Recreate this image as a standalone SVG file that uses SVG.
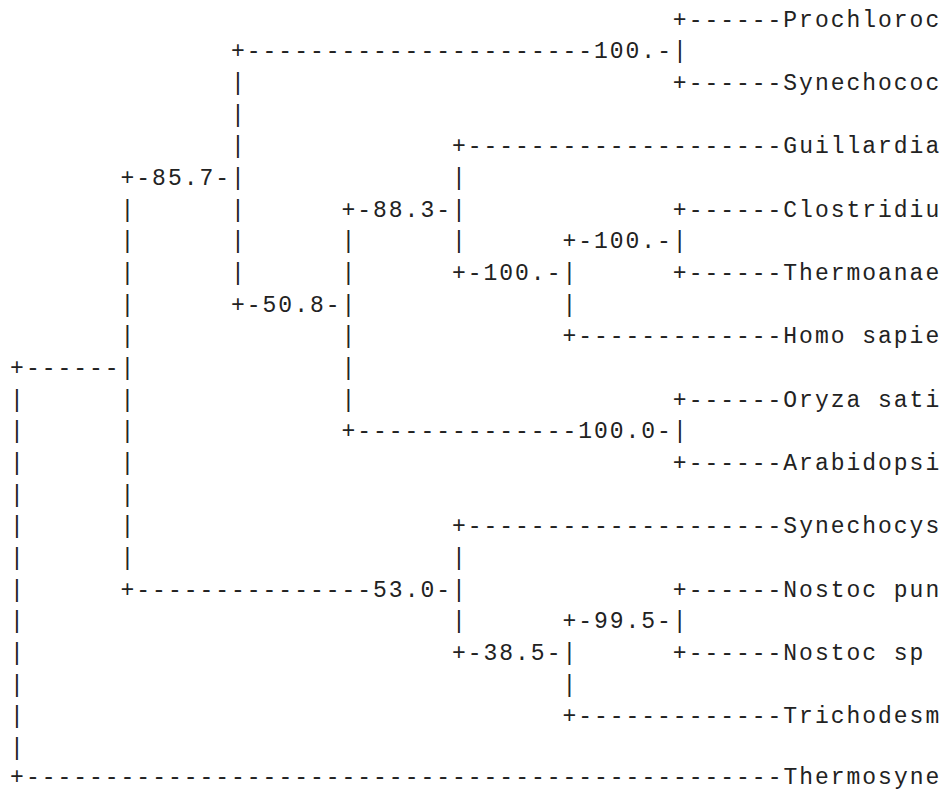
<svg xmlns="http://www.w3.org/2000/svg" width="947" height="789" viewBox="0 0 947 789">
<style>
text{font-family:"Liberation Mono","Courier New",monospace;font-size:23px;letter-spacing:1.98px;fill:#222;white-space:pre}
</style>
<rect width="947" height="789" fill="#fff"/>
<g id="tree">
<text x="672.86" y="26.7">+------Prochloroc</text>
<text x="231.02" y="58.37">+----------------------100.-|</text>
<text x="231.02" y="90.04">|</text><text x="672.86" y="90.04">+------Synechococ</text>
<text x="231.02" y="121.71">|</text>
<text x="231.02" y="153.38">|</text><text x="451.94" y="153.38">+--------------------Guillardia</text>
<text x="120.56" y="185.05">+-85.7-|</text><text x="451.94" y="185.05">|</text>
<text x="120.56" y="216.72">|</text><text x="231.02" y="216.72">|</text><text x="341.48" y="216.72">+-88.3-|</text><text x="672.86" y="216.72">+------Clostridiu</text>
<text x="120.56" y="248.39">|</text><text x="231.02" y="248.39">|</text><text x="341.48" y="248.39">|</text><text x="451.94" y="248.39">|</text><text x="562.4" y="248.39">+-100.-|</text>
<text x="120.56" y="280.06">|</text><text x="231.02" y="280.06">|</text><text x="341.48" y="280.06">|</text><text x="451.94" y="280.06">+-100.-|</text><text x="672.86" y="280.06">+------Thermoanae</text>
<text x="120.56" y="311.73">|</text><text x="231.02" y="311.73">+-50.8-|</text><text x="562.4" y="311.73">|</text>
<text x="120.56" y="343.4">|</text><text x="341.48" y="343.4">|</text><text x="562.4" y="343.4">+-------------Homo sapie</text>
<text x="10.1" y="375.07">+------|</text><text x="341.48" y="375.07">|</text>
<text x="10.1" y="406.74">|</text><text x="120.56" y="406.74">|</text><text x="341.48" y="406.74">|</text><text x="672.86" y="406.74">+------Oryza sati</text>
<text x="10.1" y="438.41">|</text><text x="120.56" y="438.41">|</text><text x="341.48" y="438.41">+--------------100.0-|</text>
<text x="10.1" y="470.08">|</text><text x="120.56" y="470.08">|</text><text x="672.86" y="470.08">+------Arabidopsi</text>
<text x="10.1" y="501.75">|</text><text x="120.56" y="501.75">|</text>
<text x="10.1" y="533.42">|</text><text x="120.56" y="533.42">|</text><text x="451.94" y="533.42">+--------------------Synechocys</text>
<text x="10.1" y="565.09">|</text><text x="120.56" y="565.09">|</text><text x="451.94" y="565.09">|</text>
<text x="10.1" y="596.76">|</text><text x="120.56" y="596.76">+---------------53.0-|</text><text x="672.86" y="596.76">+------Nostoc pun</text>
<text x="10.1" y="628.43">|</text><text x="451.94" y="628.43">|</text><text x="562.4" y="628.43">+-99.5-|</text>
<text x="10.1" y="660.1">|</text><text x="451.94" y="660.1">+-38.5-|</text><text x="672.86" y="660.1">+------Nostoc sp</text>
<text x="10.1" y="691.77">|</text><text x="562.4" y="691.77">|</text>
<text x="10.1" y="723.44">|</text><text x="562.4" y="723.44">+-------------Trichodesm</text>
<text x="10.1" y="755.11">|</text>
<text x="10.1" y="783.5">+------------------------------------------------Thermosyne</text>
</g>
</svg>
